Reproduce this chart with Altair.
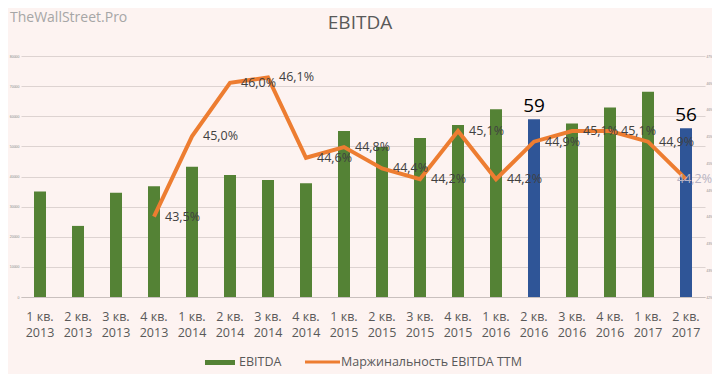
import altair as alt
import pandas as pd

quarters = ["1 кв.", "2 кв.", "3 кв.", "4 кв.", "1 кв.", "2 кв.", "3 кв.", "4 кв.", "1 кв.",
            "2 кв.", "3 кв.", "4 кв.", "1 кв.", "2 кв.", "3 кв.", "4 кв.", "1 кв.", "2 кв."]
years = ["2013", "2013", "2013", "2013", "2014", "2014", "2014", "2014", "2015",
         "2015", "2015", "2015", "2016", "2016", "2016", "2016", "2017", "2017"]
ebitda = [35.0, 23.6, 34.6, 36.8, 43.2, 40.5, 38.8, 37.8, 55.1,
          49.8, 52.8, 57.1, 62.3, 59.0, 57.6, 62.9, 68.1, 56.0]
margin = [None, None, None, 43.5, 45.0, 46.0, 46.1, 44.6, 44.8,
          44.4, 44.2, 45.1, 44.2, 44.9, 45.1, 45.1, 44.9, 44.2]
highlight = ["2 кв.|2016", "2 кв.|2017"]
faded_label = ["2 кв.|2017"]

cats = [q + "|" + y for q, y in zip(quarters, years)]
df = pd.DataFrame({
    "cat": cats,
    "ebitda": ebitda,
    "margin": margin,
})
df["kind"] = ["hi" if c in highlight else "base" for c in cats]
df["mlabel"] = [("%.1f%%" % m).replace(".", ",") if m is not None else "" for m in margin]
df["blabel"] = ["%d" % round(v) for v in ebitda]
df["faded"] = [c in faded_label for c in cats]

one = pd.DataFrame({"k": [0]})

FONT = "Open Sans"
GRAY = "#595959"

x = alt.X("cat:N", sort=cats, title=None,
          scale=alt.Scale(paddingInner=0.684, paddingOuter=0.342),
          axis=alt.Axis(labelExpr="split(datum.label, '|')", labelAngle=0,
                        labelFontSize=12.5, labelColor=GRAY, labelFont=FONT,
                        labelLineHeight=16, labelBaseline="top", labelPadding=13,
                        ticks=False, domainColor="#c9c0be", grid=False))

yl = alt.Y("ebitda:Q", title=None,
           scale=alt.Scale(domain=[0, 80], nice=False),
           axis=alt.Axis(values=list(range(0, 81, 10)), labelFontSize=3.5,
                         labelColor="#888888", labelExpr="datum.value == 0 ? '0' : datum.value + '000'",
                         ticks=False, domain=False, gridColor="#ddd3d1", labelPadding=2))

bars = alt.Chart(df).mark_bar(size=12).encode(
    x=x, y=yl,
    color=alt.Color("kind:N", scale=alt.Scale(domain=["base", "hi"], range=["#548235", "#2f5597"]), legend=None),
)

blabels = alt.Chart(df).transform_filter(alt.datum.kind == "hi").mark_text(
    baseline="bottom", dy=-3, fontSize=19, color="#000000", font=FONT
).encode(x=x, y=yl, text="blabel:N")

yr = alt.Y("margin:Q", title=None,
           scale=alt.Scale(domain=[42.0, 46.5], nice=False, zero=False),
           axis=alt.Axis(orient="right", values=[42.0 + 0.5 * i for i in range(10)], labelFontSize=3,
                         labelColor="#888888", labelExpr="format(datum.value, '.0f') + '%'",
                         ticks=False, domain=False, gridColor="#eee4e2", labelPadding=1))

line = alt.Chart(df).transform_filter("isValid(datum.margin)").mark_line(
    color="#ed7d31", strokeWidth=4, strokeJoin="miter"
).encode(x=x, y=yr)

mlabels = alt.Chart(df).transform_filter("isValid(datum.margin) && !datum.faded").mark_text(
    align="left", baseline="middle", dx=11, dy=0, fontSize=12.5, font=FONT, color="#404040"
).encode(x=x, y=yr, text="mlabel:N")

mlabels_faded = alt.Chart(df).transform_filter("isValid(datum.margin) && datum.faded").mark_text(
    align="left", baseline="middle", dx=-9, dy=0, fontSize=12.5, font=FONT, color="#b8b4c4"
).encode(x=x, y=yr, text="mlabel:N")

title = alt.Chart(one).mark_text(text="EBITDA", fontSize=19, color=GRAY, font=FONT,
                                 align="center", baseline="middle").encode(
    x=alt.value(339), y=alt.value(-33))
water = alt.Chart(one).mark_text(text="TheWallStreet.Pro", fontSize=14, color="#a6a6a6", font=FONT,
                                 align="left", baseline="middle").encode(
    x=alt.value(-11), y=alt.value(-38))

leg_rect = alt.Chart(one).mark_rect(color="#548235").encode(
    x=alt.value(184), x2=alt.value(214), y=alt.value(304), y2=alt.value(309))
leg_t1 = alt.Chart(one).mark_text(text="EBITDA", fontSize=12.5, color=GRAY, font=FONT,
                                  align="left", baseline="middle").encode(
    x=alt.value(218), y=alt.value(306))
leg_line = alt.Chart(one).mark_rule(color="#ed7d31", strokeWidth=3).encode(
    x=alt.value(284), x2=alt.value(319), y=alt.value(306))
leg_t2 = alt.Chart(one).mark_text(text="Маржинальность EBITDA TTM", fontSize=12.5, color=GRAY, font=FONT,
                                  align="left", baseline="middle").encode(
    x=alt.value(320), y=alt.value(306))

left = alt.layer(bars, blabels)
right = alt.layer(line, mlabels, mlabels_faded)

chart = alt.layer(left, right, title, water, leg_rect, leg_t1, leg_line, leg_t2).resolve_scale(
    y="independent", color="independent"
).properties(
    width=684, height=241,
    autosize=alt.AutoSizeParams(type="none"),
    padding={"left": 13, "top": 48, "right": 7, "bottom": 77},
    background="#fdf3f1",
).configure_view(stroke=None)

chart.save("out.html", embed_options={"renderer": "svg", "actions": False})
